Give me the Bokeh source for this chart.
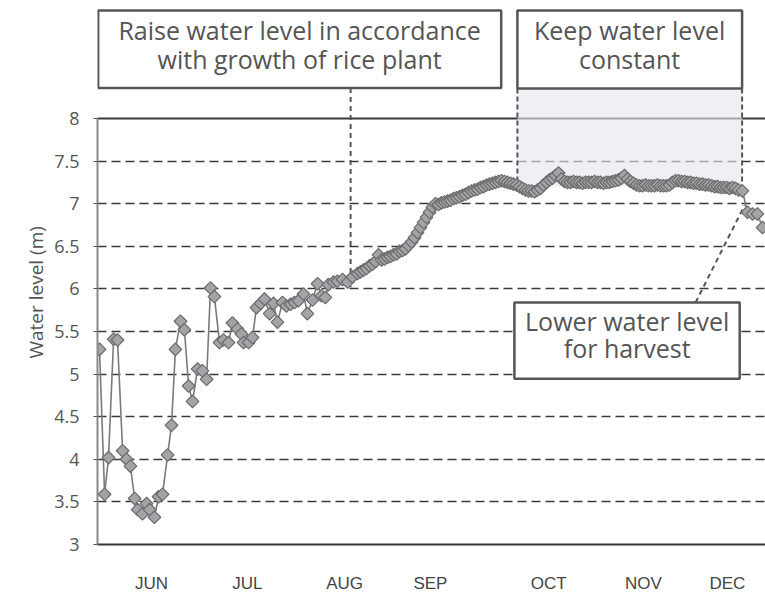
from bokeh.plotting import figure
from bokeh.models import Range1d, FixedTicker, Span, Title
from bokeh.core.properties import value
from bokeh.embed import file_html
from bokeh.resources import INLINE
import math

# ---------------- data ----------------
days = [1.0, 2.7, 4.0, 5.7, 7.0, 8.7, 10.0, 11.3, 12.7, 13.7, 15.3, 16.7, 17.7, 19.3, 20.7,
        22.0, 23.7, 25.0, 26.3, 28.0, 29.3, 30.7, 32.0, 33.7, 35.3, 36.7, 38.0, 39.3, 41.0,
        42.3, 44.0, 45.3, 47.0, 48.3, 49.0, 50.7, 52.0, 53.3, 54.7, 56.0, 57.7, 59.0, 60.3,
        62.0, 63.3, 64.7, 66.0, 67.3, 69.0, 70.3, 72.0, 73.7, 75.0, 76.3, 77.3, 79.0, 80.3,
        82.0, 83.7, 85.3, 87.0,
        88, 89, 90, 91, 92, 93, 94, 95, 96, 97, 98, 99, 100, 101, 102, 103, 104, 105, 106,
        107, 108, 109, 110, 111, 112, 113, 114, 115, 116, 117, 118, 119, 120, 121, 122, 123,
        124, 125, 126, 127, 128, 129, 130, 131, 132, 133, 134, 135, 136, 137, 138, 139, 140,
        141, 142, 143, 144, 145, 146, 147, 148, 149, 150, 151, 152, 153, 154, 155, 156, 157,
        158, 159, 160, 161, 162, 163, 164, 165, 166, 167, 168, 169, 170, 171, 172, 173, 174,
        175, 176, 177, 178, 179, 180, 181, 182, 183, 184, 185, 186, 187, 188, 189, 190, 191,
        192, 193, 194, 195, 196, 197, 198, 199, 200, 201, 202, 203, 204, 205, 206, 207, 208,
        209, 210, 211, 212, 213, 214,
        215.3, 217.0, 218.7, 220.3, 222.0]

level = [5.29, 3.59, 4.02, 5.41, 5.40, 4.10, 4.00, 3.92, 3.54, 3.41, 3.36, 3.48, 3.41, 3.32, 3.56,
         3.59, 4.05, 4.40, 5.29, 5.62, 5.52, 4.86, 4.68, 5.06, 5.04, 4.94, 6.01, 5.91, 5.37,
         5.40, 5.37, 5.60, 5.53, 5.47, 5.37, 5.37, 5.43, 5.78, 5.83, 5.88, 5.71, 5.83, 5.61,
         5.84, 5.80, 5.82, 5.84, 5.86, 5.94, 5.71, 5.87, 6.06, 5.92, 5.90, 6.05, 6.08, 6.09,
         6.11, 6.08, 6.14, 6.18,
         6.20, 6.22, 6.24, 6.27, 6.29, 6.32, 6.40, 6.34, 6.35, 6.37, 6.38, 6.40, 6.41, 6.44,
         6.45, 6.47, 6.51, 6.55, 6.60, 6.66, 6.72, 6.78, 6.84, 6.90, 6.96, 7.00, 6.99, 7.01,
         7.02, 7.03, 7.04, 7.06, 7.07, 7.08, 7.10, 7.11, 7.13, 7.15, 7.16, 7.17, 7.19, 7.20,
         7.22, 7.23, 7.24, 7.25, 7.26, 7.27, 7.26, 7.25, 7.24, 7.23, 7.22, 7.20, 7.18, 7.16,
         7.15, 7.15, 7.14, 7.16, 7.18, 7.22, 7.25, 7.28, 7.30, 7.33, 7.36, 7.29, 7.26,
         7.25, 7.25, 7.26, 7.25, 7.25, 7.24, 7.25, 7.25, 7.25, 7.26, 7.25, 7.25, 7.24, 7.25,
         7.25, 7.26,
         7.27, 7.28, 7.30, 7.33, 7.29, 7.26, 7.24, 7.22,
         7.21, 7.21, 7.22, 7.21, 7.21, 7.21, 7.22, 7.21, 7.21, 7.21, 7.22,
         7.25, 7.27, 7.27, 7.26, 7.26, 7.25, 7.25, 7.24, 7.24, 7.23, 7.23, 7.22, 7.22, 7.21,
         7.20, 7.20, 7.19, 7.19, 7.19, 7.18, 7.19, 7.18, 7.16,
         7.15, 6.90, 6.88, 6.88, 6.72]

month_labels = ["JUN", "JUL", "AUG", "SEP", "OCT", "NOV", "DEC"]
month_pos = [18.3, 50.3, 82.7, 111.3, 150.7, 182.3, 210.3]

y_ticks = [3, 3.5, 4, 4.5, 5, 5.5, 6, 6.5, 7, 7.5, 8]
y_tick_labels = ["3", "3.5", "4", "4.5", "5", "5.5", "6", "6.5", "7", "7.5", "8"]

# annotations (in data units: day, water level)
raise_lines = ["Raise water level in accordance", "with growth of rice plant"]
keep_lines = ["Keep water level", "constant"]
lower_lines = ["Lower water level", "for harvest"]

# ---------------- figure ----------------
FONT = "Open Sans"
TXT = "#555555"

p = figure(width=765, height=597, output_backend="svg", toolbar_location=None,
           x_range=Range1d(0.33, 223), y_range=Range1d(3, 9.291),
           min_border_left=97, min_border_right=0, min_border_top=8, min_border_bottom=53)
p.outline_line_color = None
p.background_fill_color = "white"
p.border_fill_color = "white"

# axes
p.xaxis.ticker = FixedTicker(ticks=month_pos)
p.xaxis.major_label_overrides = {pos: lab for pos, lab in zip(month_pos, month_labels)}
p.xaxis.major_label_text_font = "Liberation Sans"
p.xaxis.major_label_text_font_size = "17px"
p.xaxis.major_label_text_color = "#444444"
p.xaxis.major_tick_line_color = None
p.xaxis.major_tick_out = 0
p.xaxis.major_tick_in = 0
p.xaxis.minor_tick_line_color = None
p.xaxis.major_label_standoff = 29
p.xaxis.axis_line_color = "#333333"
p.xaxis.axis_line_width = 2

p.yaxis.ticker = FixedTicker(ticks=y_ticks)
p.yaxis.major_label_overrides = {t: l for t, l in zip(y_ticks, y_tick_labels)}
p.yaxis.bounds = (3, 8)
p.yaxis.axis_line_color = "#8a8a8a"
p.yaxis.axis_line_width = 2
p.yaxis.major_tick_line_color = "#555555"
p.yaxis.major_tick_out = 4
p.yaxis.major_tick_in = 0
p.yaxis.minor_tick_line_color = None
p.yaxis.major_label_standoff = 14
p.yaxis.major_label_text_font = FONT
p.yaxis.major_label_text_font_size = "18px"
p.yaxis.major_label_text_color = TXT

ylab = Title(text="Water level (m)", align="left", offset=186, standoff=6,
             text_font=FONT, text_font_size="19px", text_font_style="normal", text_color=TXT)
p.add_layout(ylab, "left")

p.xgrid.grid_line_color = None
p.ygrid.ticker = FixedTicker(ticks=y_ticks[1:-1])
p.ygrid.grid_line_color = "#3a3a3a"
p.ygrid.grid_line_width = 1.3
p.ygrid.grid_line_dash = "9 5"

top_line = Span(location=8, dimension="width", line_color="#3a3a3a", line_width=2, level="underlay")
p.add_layout(top_line)

# shaded "keep constant" region
keep_left, keep_right, box_top, box_bottom = 140.3, 215.2, 9.268, 8.352
p.quad(left=[keep_left], right=[keep_right], top=[box_bottom], bottom=[7.2],
       fill_color="#e4e6ec", fill_alpha=0.62, line_color=None)
p.segment(x0=[keep_left, keep_right], y0=[box_bottom, box_bottom], x1=[keep_left, keep_right],
          y1=[7.27, 7.2], line_color="#555555", line_width=2, line_dash="5 3")

# leader lines
p.segment(x0=[84.7], y0=[8.358], x1=[84.7], y1=[6.02], line_color="#555555", line_width=2,
          line_dash="5 4")
p.segment(x0=[199.7], y0=[5.84], x1=[216.0], y1=[6.98], line_color="#555555", line_width=2,
          line_dash="5 4")

# data
p.line(days, level, line_color="#7a7a7a", line_width=1.6)
p.scatter(days, level, marker="square", size=9, angle=math.pi / 4,
          fill_color="#a3a3a8", line_color="#6c6c6c", line_width=1.2)

# annotation boxes
p.quad(left=[0.55, keep_left, 139.3], right=[134.9, keep_right, 214.4],
       top=[box_top, box_top, 5.84], bottom=[8.358, box_bottom, 4.945],
       fill_color="white", line_color="#555555", line_width=2.5)

p.text(x=[67.7, 67.7], y=[9.041, 8.701], text=raise_lines, text_font=value(FONT),
       text_font_size="25px", text_align="center", text_baseline="alphabetic", text_color=TXT)
p.text(x=[177.7, 177.7], y=[9.041, 8.701], text=keep_lines, text_font=value(FONT),
       text_font_size="25px", text_align="center", text_baseline="alphabetic", text_color=TXT)
p.text(x=[176.9, 176.9], y=[5.629, 5.304], text=lower_lines, text_font=value(FONT),
       text_font_size="25px", text_align="center", text_baseline="alphabetic", text_color=TXT)

open("out.html", "w").write(file_html(p, INLINE))
